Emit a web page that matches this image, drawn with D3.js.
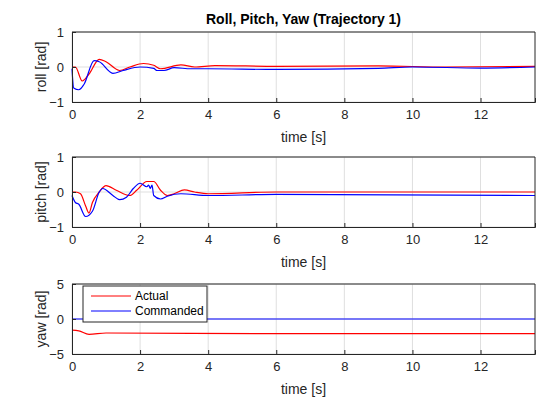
<!DOCTYPE html>
<html><head><meta charset="UTF-8">
<script src="https://d3js.org/d3.v7.min.js"></script>
<style>body{margin:0;background:#fff}text{font-family:"Liberation Sans",Arial,sans-serif}</style>
</head><body><svg id="c" width="560" height="420"></svg>
<script>
// [time, value] samples
let rollAct = [[0,0],[0.1,0],[0.3,-0.4],[0.5,-0.2],[0.8,0.22],[1.0,0.15],[1.4,-0.1],[1.7,0],[2.1,0.1],[2.4,0.05],[2.6,-0.05],[3.2,0.06],[3.6,0],[4.2,0.04],[6,0.02],[9,0.03],[11,0],[13.6,0.02]],
    rollCmd = [[0,-0.05],[0.05,-0.6],[0.2,-0.65],[0.35,-0.5],[0.65,0.18],[0.8,0.15],[1.2,-0.18],[1.5,-0.1],[2.0,0],[2.4,-0.04],[2.5,-0.1],[2.7,-0.1],[3.0,-0.02],[3.5,-0.05],[4,-0.05],[6,-0.07],[9,-0.04],[10,0],[12,-0.03],[13.6,0]],
    pitchAct = [[0,0],[0.1,0],[0.25,-0.05],[0.4,-0.4],[0.5,-0.6],[0.6,-0.3],[0.8,0],[1.0,0.18],[1.3,0.05],[1.7,-0.1],[1.9,0.05],[2.2,0.3],[2.4,0.3],[2.6,0.05],[2.8,-0.1],[3.0,-0.05],[3.3,0.06],[3.6,0],[4,-0.05],[6,0],[13.6,0]],
    pitchCmd = [[0,-0.1],[0.1,-0.3],[0.2,-0.35],[0.4,-0.7],[0.6,-0.55],[0.8,0],[0.9,0.1],[1.2,-0.1],[1.4,-0.22],[1.6,-0.15],[1.8,0.1],[2.0,0.25],[2.2,0.15],[2.25,0.2],[2.3,0.1],[2.35,0.2],[2.4,-0.1],[2.6,-0.2],[2.8,-0.12],[3.2,-0.05],[4,-0.1],[6,-0.07],[13.6,-0.1]],
    yawAct = [[0,-1.6],[0.2,-1.7],[0.5,-2.2],[1,-2.0],[6,-2.1],[13.6,-2.1]],
    yawCmd = [[0,0],[13.6,0]],
    xTicks = [0,2,4,6,8,10,12];

let panels = [
  {top:32, lab:'roll [rad]', dom:[-1,1], ticks:[-1,0,1], act:rollAct, cmd:rollCmd},
  {top:157, lab:'pitch [rad]', dom:[-1,1], ticks:[-1,0,1], act:pitchAct, cmd:pitchCmd},
  {top:284, lab:'yaw [rad]', dom:[-5,5], ticks:[-5,0,5], act:yawAct, cmd:yawCmd, legend:true}
];
let svg = d3.select('#c'), L=72, R=535, H=70;
let x = d3.scaleLinear().domain([0,13.6]).range([L,R]);

svg.append('text').attr('x',(L+R)/2).attr('y',24).attr('text-anchor','middle')
  .style('font-size','14px').style('font-weight','bold').text('Roll, Pitch, Yaw (Trajectory 1)');

panels.forEach(p=>{
  let y = d3.scaleLinear().domain(p.dom).range([p.top+H,p.top]);
  let g = svg.append('g');
  g.append('rect').attr('x',L).attr('y',p.top).attr('width',R-L).attr('height',H).attr('fill','#fff');
  g.selectAll('.gx').data(xTicks).enter().append('line').attr('x1',d=>x(d)).attr('x2',d=>x(d))
    .attr('y1',p.top).attr('y2',p.top+H).attr('stroke','#dfdfdf');
  g.selectAll('.gy').data(p.ticks).enter().append('line').attr('y1',d=>y(d)).attr('y2',d=>y(d))
    .attr('x1',L).attr('x2',R).attr('stroke','#dfdfdf');
  let line = d3.line().x(d=>x(d[0])).y(d=>y(d[1])).curve(d3.curveMonotoneX);
  g.append('path').attr('d',line(p.act)).attr('fill','none').attr('stroke','#ff0000').attr('stroke-width',1.2);
  g.append('path').attr('d',line(p.cmd)).attr('fill','none').attr('stroke','#0000ff').attr('stroke-width',1.2);
  let ax = g.append('g').attr('transform',`translate(0,${p.top+H})`)
    .call(d3.axisBottom(x).tickValues(xTicks).tickFormat(d3.format('d')).tickSize(-4).tickPadding(8));
  let ay = g.append('g').attr('transform',`translate(${L},0)`)
    .call(d3.axisLeft(y).tickValues(p.ticks).tickFormat(d3.format('d')).tickSize(-4).tickPadding(8));
  [ax,ay].forEach(a=>{a.select('.domain').attr('stroke','#262626');
    a.selectAll('line').attr('stroke','#262626');
    a.selectAll('text').style('font-size','13px').attr('fill','#262626').style('font-family','Liberation Sans, Arial');});
  g.append('line').attr('x1',L).attr('x2',R).attr('y1',p.top).attr('y2',p.top).attr('stroke','#262626');
  g.append('line').attr('x1',R).attr('x2',R).attr('y1',p.top).attr('y2',p.top+H).attr('stroke','#262626');
  g.append('text').attr('x',(L+R)/2).attr('y',p.top+H+40).attr('text-anchor','middle')
    .style('font-size','14px').attr('fill','#262626').text('time [s]');
  g.append('text').attr('transform',`translate(${L-26},${p.top+H/2}) rotate(-90)`).attr('text-anchor','middle')
    .style('font-size','14px').attr('fill','#262626').text(p.lab);
  if(p.legend){
    let lg = g.append('g').attr('transform','translate(83,286)');
    lg.append('rect').attr('width',124).attr('height',36).attr('fill','#fff').attr('stroke','#262626');
    [['Actual','#ff0000'],['Commanded','#0000ff']].forEach((s,i)=>{
      lg.append('line').attr('x1',8).attr('x2',48).attr('y1',10+i*15).attr('y2',10+i*15).attr('stroke',s[1]);
      lg.append('text').attr('x',52).attr('y',14+i*15).style('font-size','12px').text(s[0]);
    });
  }
});
</script></body></html>
